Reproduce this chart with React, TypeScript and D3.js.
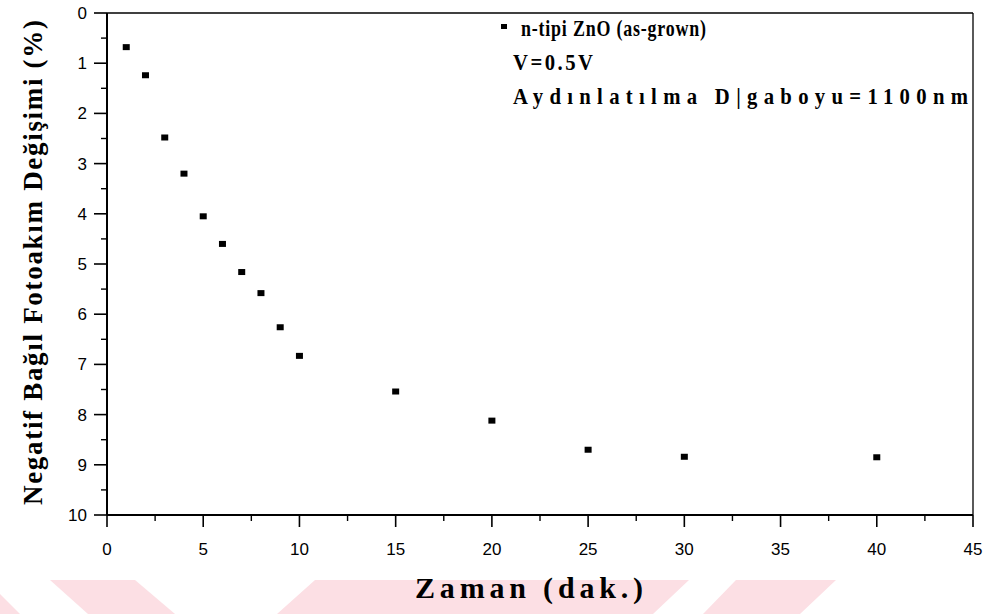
import React from "react";
import * as d3 from "d3";

const timeMin = [1, 2, 3, 4, 5, 6, 7, 8, 9, 10, 15, 20, 25, 30, 40];
const changePct = [0.68, 1.24, 2.48, 3.2, 4.05, 4.6, 5.16, 5.58, 6.26, 6.83, 7.54, 8.12, 8.7, 8.84, 8.85];
const xMajorTicks = [0, 5, 10, 15, 20, 25, 30, 35, 40, 45];
const yMajorTicks = [0, 1, 2, 3, 4, 5, 6, 7, 8, 9, 10];
const legendLines = ["n-tipi ZnO (as-grown)", "V=0.5V", "Aydınlatılma D|gaboyu=1100nm"];
const xTitle = "Zaman (dak.)";
const yTitle = "Negatif Bağıl Fotoakım Değişimi (%)";

const W = 996;
const H = 614;
const left = 107;
const right = 973;
const top = 13;
const bottom = 515;

export default function App() {
  const x = d3.scaleLinear().domain([0, 45]).range([left, right]);
  const y = d3.scaleLinear().domain([0, 10]).range([top, bottom]);
  const xMinor = d3.range(0, 45.01, 2.5).filter((v) => v % 5 !== 0);
  const yMinor = d3.range(0.5, 10, 1);
  const serif = "'Liberation Serif', 'Times New Roman', serif";
  const sans = "'Liberation Sans', Arial, sans-serif";
  const pink = "#fcdfe4";
  const sx = 0.9;
  const sx1 = 0.78;
  return (
    <svg width={W} height={H} style={{ position: "absolute", left: 0, top: 0, background: "#fff" }}>
      {/* watermark */}
      <polygon points="50,580 135,580 175,614 88,614" fill={pink} />
      <polygon points="0,594 20,614 0,614" fill={pink} />
      <polygon points="315,580 689,580 653,614 277,614" fill={pink} />
      <polygon points="736,580 836,580 800,614 703,614" fill={pink} />

      {/* frame */}
      <g stroke="#000" fill="none">
        <line x1={left} x2={right} y1={top} y2={top} strokeWidth={1.3} />
        <line x1={right} x2={right} y1={top} y2={bottom} strokeWidth={1.3} />
        <line x1={left} x2={right} y1={bottom} y2={bottom} strokeWidth={2} />
        <line x1={left} x2={left} y1={top} y2={bottom} strokeWidth={2} />
        {xMajorTicks.map((t) => (
          <line key={"xM" + t} x1={x(t)} x2={x(t)} y1={bottom} y2={bottom + 12} strokeWidth={1.6} />
        ))}
        {xMinor.map((t) => (
          <line key={"xm" + t} x1={x(t)} x2={x(t)} y1={bottom} y2={bottom + 6} strokeWidth={1.4} />
        ))}
        {yMajorTicks.map((t) => (
          <line key={"yM" + t} x1={left - 13} x2={left} y1={y(t)} y2={y(t)} strokeWidth={1.6} />
        ))}
        {yMinor.map((t) => (
          <line key={"ym" + t} x1={left - 6} x2={left} y1={y(t)} y2={y(t)} strokeWidth={1.4} />
        ))}
      </g>

      {/* tick labels */}
      <g fontFamily={sans} fontSize={17} fill="#000">
        {xMajorTicks.map((t) => (
          <text key={"xl" + t} x={x(t)} y={555} textAnchor="middle">
            {t}
          </text>
        ))}
        {yMajorTicks.map((t) => (
          <text key={"yl" + t} x={87} y={y(t) + 6} textAnchor="end">
            {t}
          </text>
        ))}
      </g>

      {/* data */}
      <g fill="#000">
        {timeMin.map((t, i) => (
          <rect key={"p" + i} x={x(t) - 3.5} y={y(changePct[i]) - 3} width={7} height={6} />
        ))}
      </g>

      {/* legend */}
      <rect x={501} y={24} width={6} height={5} fill="#000" />
      <g fontFamily={serif} fontWeight="bold" fontSize={23} fill="#000">
        <g transform={`translate(521,0) scale(${sx1},1)`}>
          <text x={0} y={36} textLength={185 / sx1} lengthAdjust="spacing">
            {legendLines[0]}
          </text>
        </g>
        <g transform={`translate(513,0) scale(${sx},1)`}>
          <text x={0} y={70} textLength={80 / sx} lengthAdjust="spacing">
            {legendLines[1]}
          </text>
          <text x={0} y={104} textLength={455 / sx} lengthAdjust="spacing">
            {legendLines[2]}
          </text>
        </g>
      </g>

      {/* axis titles */}
      <text
        x={415}
        y={598}
        fontFamily={serif}
        fontWeight="bold"
        fontSize={30}
        textLength={228}
        lengthAdjust="spacing"
        fill="#000"
      >
        {xTitle}
      </text>
      <text
        transform={`translate(42,505) rotate(-90)`}
        x={0}
        y={0}
        fontFamily={serif}
        fontWeight="bold"
        fontSize={27}
        textLength={485}
        lengthAdjust="spacing"
        fill="#000"
      >
        {yTitle}
      </text>
    </svg>
  );
}
